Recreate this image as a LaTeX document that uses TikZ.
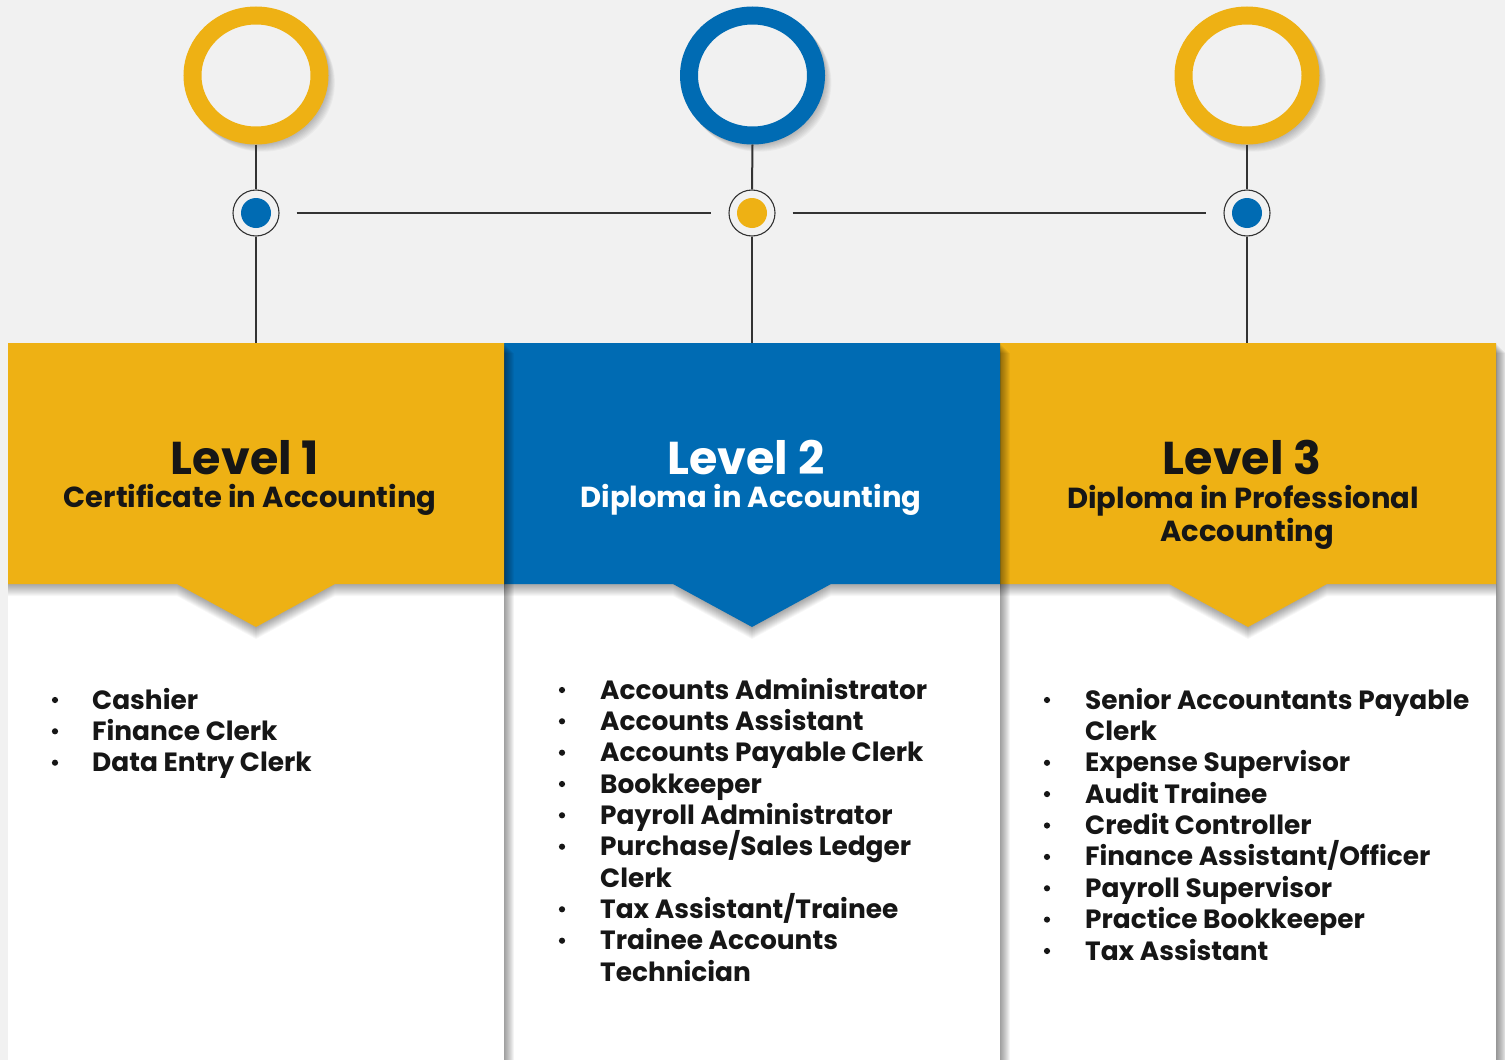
\documentclass[tikz,border=0pt]{standalone}
\usepackage{fontspec}
\setmainfont{Poppins}
\usetikzlibrary{shapes.geometric}
\definecolor{gold}{HTML}{EEB114}
\definecolor{cblue}{HTML}{006BB3}
\definecolor{bg}{HTML}{F1F1F1}
\definecolor{ink}{HTML}{161616}
\definecolor{wire}{HTML}{333333}
\newcommand\jobline[4]{\node[job, anchor=base west] (#1) at (#2,#3) {#4};}
\newcommand\jobdot[3]{\node[bul] (#1) at (#2,#3) {};}
\newcommand\column[4]{% #1 left, #2 centre, #3 colour, #4 name
  \foreach \k in {1,...,10}{\fill[black, opacity=0.045] (#1+\k,343+\k) rectangle (#1+496+\k,1075);}
  \fill[white] (#1,343) rectangle (#1+496,1075);
  \foreach \k in {1,...,12}{\fill[black, opacity=0.03] (#1,343+\k) -- (#1+496,343+\k) -- (#1+496,584+\k) -- (#2+79,584+\k) -- (#2,627+\k) -- (#2-79,584+\k) -- (#1,584+\k) -- cycle;}
  \fill[#3] (#1,343) -- (#1+496,343) -- (#1+496,584) -- (#2+79,584) -- (#2,627) -- (#2-79,584) -- (#1,584) -- cycle;
  \coordinate (#4) at (#2,343);
}
\begin{document}
\begin{tikzpicture}[x=1pt,y=-1pt,
  wireline/.style={draw=wire, line width=2pt},
  bigring/.style={ellipse, draw=#1, fill=bg, line width=18pt, minimum width=127pt, minimum height=120pt, inner sep=0pt},
  dotnode/.style={circle, draw=wire, line width=1.1pt, fill=bg, minimum size=46pt, inner sep=0pt,
     path picture={\fill[#1] (path picture bounding box.center) circle (15pt);}},
  title/.style={font=\fontsize{46}{46}\selectfont\bfseries, inner sep=0pt, anchor=base},
  subtitle/.style={font=\fontsize{29}{29}\selectfont\bfseries, inner sep=0pt, anchor=base},
  job/.style={font=\fontsize{26.4}{26.4}\selectfont\bfseries, text=ink, inner sep=0pt},
  bul/.style={circle, fill=ink, minimum size=6.2pt, inner sep=0pt}]
\useasboundingbox (0,0) rectangle (1505,1060);
\fill[bg] (0,0) rectangle (1505,1060);

% columns, right to left so shadows fall on the right neighbour
\column{1000}{1248}{gold}{h3}
\column{504}{752}{cblue}{h2}
\column{8}{256}{gold}{h1}

% top rings with soft shadow
\foreach \cx in {256,752.5,1247}{
  \foreach \k in {1,...,8}{\fill[black, opacity=0.03] (\cx+\k*0.8,75.5+\k*0.9) ellipse (72.5 and 69);}
}
\node[bigring=gold] (c1) at (256,75.5) {};
\node[bigring=cblue] (c2) at (752.5,75.5) {};
\node[bigring=gold] (c3) at (1247,75.5) {};

% timeline dots
\node[dotnode=cblue] (d1) at (256,213) {};
\node[dotnode=gold] (d2) at (752,213) {};
\node[dotnode=cblue] (d3) at (1247,213) {};

\draw[wireline] (c1.south) -- (d1.north);
\draw[wireline] (c2.south) -- (d2.north);
\draw[wireline] (c3.south) -- (d3.north);
\draw[wireline] (d1.south) -- (d1.south |- h1);
\draw[wireline] (d2.south) -- (d2.south |- h2);
\draw[wireline] (d3.south) -- (d3.south |- h3);
\draw[wireline] ([xshift=17pt]d1.east) -- ([xshift=-17pt]d2.west);
\draw[wireline] ([xshift=17pt]d2.east) -- ([xshift=-17pt]d3.west);

% headers
\node[title, text=ink] (t1) at (245,474) {Level 1};
\node[subtitle, text=ink] (s1) at (250,507) {Certificate in Accounting};
\node[title, text=white] (t2) at (746,474) {Level 2};
\node[subtitle, text=white] (s2) at (751,507) {Diploma in Accounting};
\node[title, text=ink] (t3) at (1242,474) {Level 3};
\node[subtitle, text=ink] (s3a) at (1243,508) {Diploma in Professional};
\node[subtitle, text=ink] (s3b) at (1247,541) {Accounting};

% column 1 list
\jobdot{b10}{55}{700}\jobline{j10}{92}{709}{Cashier}
\jobdot{b11}{55}{731.3}\jobline{j11}{92}{740.3}{Finance Clerk}
\jobdot{b12}{55}{762.7}\jobline{j12}{92}{771.7}{Data Entry Clerk}

% column 2 list
\jobdot{b20}{562}{690}\jobline{j20}{600}{699}{Accounts Administrator}
\jobdot{b21}{562}{721.3}\jobline{j21}{600}{730.3}{Accounts Assistant}
\jobdot{b22}{562}{752.7}\jobline{j22}{600}{761.7}{Accounts Payable Clerk}
\jobdot{b23}{562}{784}\jobline{j23}{600}{793}{Bookkeeper}
\jobdot{b24}{562}{815.3}\jobline{j24}{600}{824.3}{Payroll Administrator}
\jobdot{b25}{562}{846.7}\jobline{j25}{600}{855.7}{Purchase/Sales Ledger}
\jobline{j26}{600}{887}{Clerk}
\jobdot{b27}{562}{909.3}\jobline{j27}{600}{918.3}{Tax Assistant/Trainee}
\jobdot{b28}{562}{940.7}\jobline{j28}{600}{949.7}{Trainee Accounts}
\jobline{j29}{600}{981}{Technician}

% column 3 list
\jobdot{b30}{1047}{700}\jobline{j30}{1085}{709}{Senior Accountants Payable}
\jobline{j31}{1085}{740.4}{Clerk}
\jobdot{b32}{1047}{762.8}\jobline{j32}{1085}{771.8}{Expense Supervisor}
\jobdot{b33}{1047}{794.1}\jobline{j33}{1085}{803.1}{Audit Trainee}
\jobdot{b34}{1047}{825.5}\jobline{j34}{1085}{834.5}{Credit Controller}
\jobdot{b35}{1047}{856.9}\jobline{j35}{1085}{865.9}{Finance Assistant/Officer}
\jobdot{b36}{1047}{888.3}\jobline{j36}{1085}{897.3}{Payroll Supervisor}
\jobdot{b37}{1047}{919.6}\jobline{j37}{1085}{928.6}{Practice Bookkeeper}
\jobdot{b38}{1047}{951}\jobline{j38}{1085}{960}{Tax Assistant}
\end{tikzpicture}
\end{document}
